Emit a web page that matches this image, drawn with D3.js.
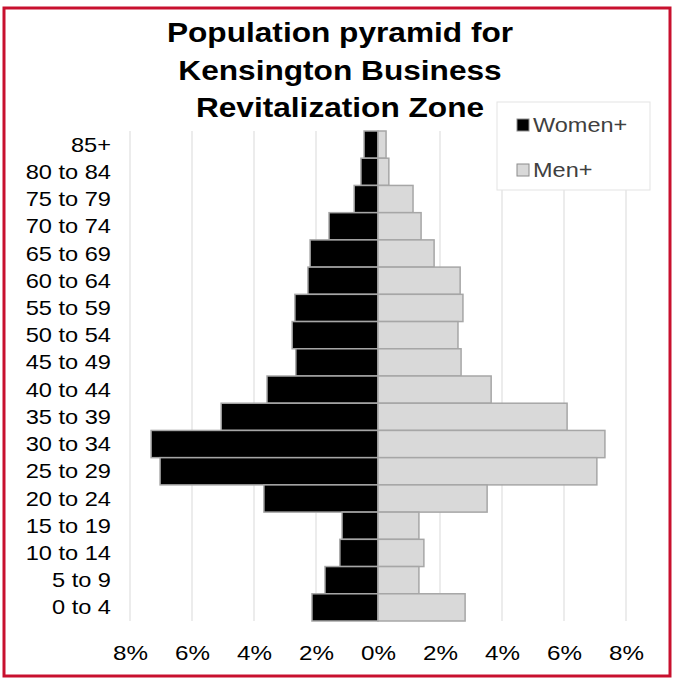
<!DOCTYPE html>
<html>
<head>
<meta charset="utf-8">
<script src="https://cdn.jsdelivr.net/npm/d3@7"></script>
<style>
  body { margin: 0; background: #fff; }
  svg { font-family: "Liberation Sans", Arial, sans-serif; }
</style>
</head>
<body>
<svg width="673" height="679"></svg>
<script>
var width = 673, height = 679;

// age groups, top to bottom
var ageGroups = ["85+", "80 to 84", "75 to 79", "70 to 74", "65 to 69", "60 to 64",
  "55 to 59", "50 to 54", "45 to 49", "40 to 44", "35 to 39", "30 to 34",
  "25 to 29", "20 to 24", "15 to 19", "10 to 14", "5 to 9", "0 to 4"];
// percent of population
var women = [0.45, 0.55, 0.77, 1.58, 2.19, 2.26, 2.68, 2.77, 2.65, 3.58, 5.06, 7.32,
  7.03, 3.68, 1.16, 1.23, 1.71, 2.13];
var men = [0.26, 0.35, 1.13, 1.39, 1.81, 2.65, 2.74, 2.58, 2.68, 3.65, 6.10, 7.32,
  7.06, 3.52, 1.32, 1.48, 1.32, 2.81];
var tickValues = [-8, -6, -4, -2, 0, 2, 4, 6, 8];
var titleLines = ["Population pyramid for", "Kensington Business", "Revitalization Zone"];

// the original text is a bit wider than Liberation Sans
var STRETCH = 1.18;

var svg = d3.select("svg");

// red frame
svg.append("rect")
  .attr("x", 4).attr("y", 8)
  .attr("width", 666).attr("height", 668)
  .attr("fill", "none")
  .attr("stroke", "#c8102e")
  .attr("stroke-width", 3);

var x = d3.scaleLinear().domain([-8, 8]).range([130, 626]);
var y = d3.scaleBand().domain(ageGroups).range([131, 621]).paddingInner(0);

// gridlines
svg.append("g").selectAll("line").data(tickValues).enter()
  .append("line")
  .attr("x1", function (d) { return x(d); })
  .attr("x2", function (d) { return x(d); })
  .attr("y1", 131).attr("y2", 621)
  .attr("stroke", "#d9d9d9")
  .attr("stroke-width", 1);

// women bars (left)
svg.append("g").selectAll("rect").data(ageGroups).enter()
  .append("rect")
  .attr("x", function (d, i) { return x(-women[i]); })
  .attr("y", function (d) { return y(d); })
  .attr("width", function (d, i) { return x(0) - x(-women[i]); })
  .attr("height", y.bandwidth())
  .attr("fill", "#000")
  .attr("stroke", "#a6a6a6")
  .attr("stroke-width", 1.5);

// men bars (right)
svg.append("g").selectAll("rect").data(ageGroups).enter()
  .append("rect")
  .attr("x", x(0))
  .attr("y", function (d) { return y(d); })
  .attr("width", function (d, i) { return x(men[i]) - x(0); })
  .attr("height", y.bandwidth())
  .attr("fill", "#d9d9d9")
  .attr("stroke", "#a6a6a6")
  .attr("stroke-width", 1.5);

// category labels
svg.append("g").selectAll("text").data(ageGroups).enter()
  .append("text")
  .attr("transform", function (d) {
    return "translate(111," + (y(d) + y.bandwidth() / 2) + ") scale(" + STRETCH + ",1)";
  })
  .attr("dy", "0.35em")
  .attr("text-anchor", "end")
  .attr("font-size", "20px")
  .attr("fill", "#000")
  .text(function (d) { return d; });

// x axis tick labels
var xAxis = d3.axisBottom(x)
  .tickValues(tickValues)
  .tickSize(0)
  .tickPadding(0)
  .tickFormat(function (d) { return Math.abs(d) + "%"; });
var gx = svg.append("g").attr("transform", "translate(0,645)").call(xAxis);
gx.select(".domain").remove();
gx.selectAll("text")
  .attr("font-size", "20.5px")
  .attr("font-family", "Liberation Sans, Arial, sans-serif")
  .attr("fill", "#000")
  .attr("transform", "scale(" + STRETCH + ",1)");

// title
svg.append("g").selectAll("text").data(titleLines).enter()
  .append("text")
  .attr("transform", function (d, i) {
    return "translate(340," + (42 + i * 37.5) + ") scale(1.13,1)";
  })
  .attr("text-anchor", "middle")
  .attr("font-size", "28px")
  .attr("font-weight", "bold")
  .attr("fill", "#000")
  .text(function (d) { return d; });

// legend
var legend = svg.append("g");
legend.append("rect")
  .attr("x", 497).attr("y", 102)
  .attr("width", 153).attr("height", 88)
  .attr("fill", "#fff")
  .attr("stroke", "#e3e3e3");
var legendItems = [{name: "Women+", fill: "#000"}, {name: "Men+", fill: "#d9d9d9"}];
var li = legend.selectAll("g.item").data(legendItems).enter()
  .append("g").attr("class", "item")
  .attr("transform", function (d, i) { return "translate(517," + (125 + i * 45) + ")"; });
li.append("rect")
  .attr("x", 0).attr("y", -6)
  .attr("width", 12).attr("height", 12)
  .attr("fill", function (d) { return d.fill; })
  .attr("stroke", "#8c8c8c")
  .attr("stroke-width", 1);
li.append("text")
  .attr("transform", "translate(16,0) scale(1.12,1)")
  .attr("dy", "0.35em")
  .attr("font-size", "21px")
  .attr("fill", "#404040")
  .text(function (d) { return d.name; });
</script>
</body>
</html>
